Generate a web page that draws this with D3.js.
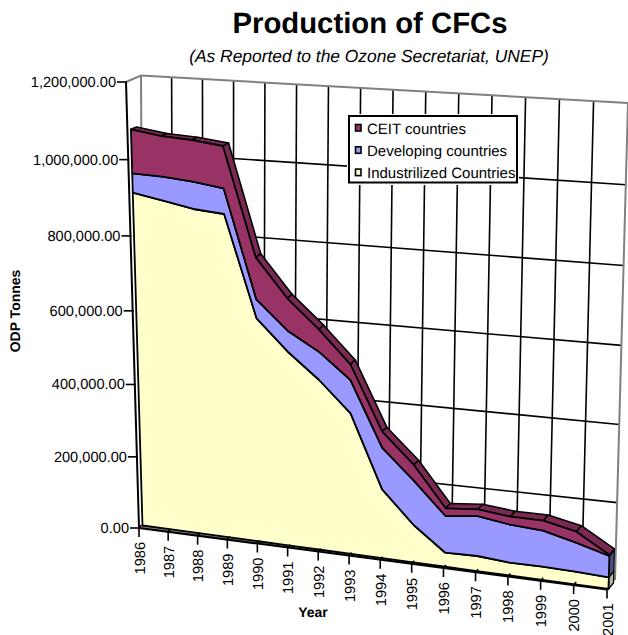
<!DOCTYPE html>
<html>
<head>
<meta charset="utf-8">
<style>
html,body{margin:0;padding:0;background:#fff}
svg{display:block}
text{font-family:"Liberation Sans",Arial,sans-serif;fill:#000;text-rendering:geometricPrecision}
</style>
</head>
<body>
<script src="https://cdn.jsdelivr.net/npm/d3@7"></script>
<script>
// CFC production in ODP tonnes
const years = d3.range(1986, 2002);
const industrialized = [910000,895400,880200,873700,607300,527000,460600,381200,187400,101800,38100,40800,34500,35500,34000,31000];
const developing = [51000,62700,71000,66600,50200,55700,75000,88400,111700,119300,99000,107300,101600,95800,76900,56300];
const ceit = [114600,105500,107700,108800,110200,85300,59000,41400,42700,42000,20700,17900,21300,26500,29000,2600];
const valueTicks = [0,200000,400000,600000,800000,1000000,1200000];
const legendNames = ["CEIT countries","Developing countries","Industrilized Countries"];
const fills = {ceit:"#993366",developing:"#9999ff",industrialized:"#ffffcc"};
const sideFills = {ceit:"#4d1a33",developing:"#4c4c80",industrialized:"#b8b890"};
const topFill = "#7a2952";

const W = 628, H = 635;
const svg = d3.select("body").append("svg").attr("width",W).attr("height",H);

// Solves the 8x8 system behind a unit-square to quadrilateral projection
function solve(A,b){
  const n=b.length; const M=A.map((r,i)=>[...r,b[i]]);
  for(let i=0;i<n;i++){
    let p=i; for(let k=i;k<n;k++) if(Math.abs(M[k][i])>Math.abs(M[p][i])) p=k;
    [M[i],M[p]]=[M[p],M[i]];
    for(let k=0;k<n;k++) if(k!==i){const f=M[k][i]/M[i][i]; for(let j=i;j<=n;j++) M[k][j]-=f*M[i][j];}
  }
  return M.map((r,i)=>r[n]/r[i]);
}
function plane(tl,tr,br,bl){
  const A=[],b=[];
  [[0,1,tl],[1,1,tr],[1,0,br],[0,0,bl]].forEach(([u,v,p])=>{
    A.push([u,v,1,0,0,0,-u*p[0],-v*p[0]]); b.push(p[0]);
    A.push([0,0,0,u,v,1,-u*p[1],-v*p[1]]); b.push(p[1]);
  });
  const h=solve(A,b);
  return (u,v)=>{const w=h[6]*u+h[7]*v+1; return [(h[0]*u+h[1]*v+h[2])/w,(h[3]*u+h[4]*v+h[5])/w];};
}

const uScale = d3.scaleLinear().domain([1986,2001]).range([0,1]);
const vScale = d3.scaleLinear().domain([0,1200000]).range([0,1]);

// Perspective planes of the 3-D box: back wall, axis edge, front and rear of the area ribbon
const wallPlane  = plane([141,75.5],[628,103],[615,580],[143.5,525]);
const axisPlane  = plane([126,82],[620,112],[607,589.5],[139,528]);
const frontPlane = plane([129.5,81],[621.5,111],[608.5,589],[142.5,525.5]);
const rearPlane  = plane([135.5,79],[626,106],[613.5,583],[145,524]);

const pt = (pl,yr,val)=>pl(uScale(yr),vScale(val));
const line = d3.line();

// Walls and grid
const walls = svg.append("g").attr("fill","none");
walls.selectAll("line.v").data(years.slice(1,-1)).join("line")
  .attr("x1",d=>pt(wallPlane,d,0)[0]).attr("y1",d=>pt(wallPlane,d,0)[1])
  .attr("x2",d=>pt(wallPlane,d,1200000)[0]).attr("y2",d=>pt(wallPlane,d,1200000)[1])
  .attr("stroke","#000").attr("stroke-width",1.6);
walls.selectAll("line.h").data(valueTicks.slice(1,-1)).join("line")
  .attr("x1",d=>pt(wallPlane,1986,d)[0]).attr("y1",d=>pt(wallPlane,1986,d)[1])
  .attr("x2",d=>pt(wallPlane,2001,d)[0]).attr("y2",d=>pt(wallPlane,2001,d)[1])
  .attr("stroke","#000").attr("stroke-width",1.6);
walls.append("path")
  .attr("d",line([pt(axisPlane,1986,1200000),pt(wallPlane,1986,1200000),pt(wallPlane,2001,1200000),pt(wallPlane,2001,0)]))
  .attr("stroke","#808080").attr("stroke-width",2);
walls.append("path")
  .attr("d",line([pt(wallPlane,1986,1200000),pt(wallPlane,1986,0)]))
  .attr("stroke","#808080").attr("stroke-width",2);

// Floor strip between the axis edge and the ribbon
svg.append("path")
  .attr("d",line([pt(axisPlane,1986,0),pt(axisPlane,2001,0),pt(wallPlane,2001,0),pt(wallPlane,1986,0)])+"Z")
  .attr("fill","#808080");

// Stacked layers, bottom to top
const layers = [];
years.forEach((y,i)=>{
  const a=industrialized[i], b=a+developing[i], c=b+ceit[i];
  layers.push({year:y,base:0,industrialized:a,developing:b,ceit:c});
});
const order = ["industrialized","developing","ceit"];
const lowerOf = {industrialized:"base",developing:"industrialized",ceit:"developing"};

// End cap at the last year
const last = layers[layers.length-1];
order.forEach(k=>{
  svg.append("path")
    .attr("d",line([pt(frontPlane,2001,last[lowerOf[k]]),pt(frontPlane,2001,last[k]),pt(rearPlane,2001,last[k]),pt(rearPlane,2001,last[lowerOf[k]])])+"Z")
    .attr("fill",sideFills[k]).attr("stroke","#000").attr("stroke-width",1.2).attr("stroke-linejoin","round");
});

// Top of the ribbon, one facet per year interval
d3.pairs(layers).forEach(([p,q])=>{
  svg.append("path")
    .attr("d",line([pt(frontPlane,p.year,p.ceit),pt(frontPlane,q.year,q.ceit),pt(rearPlane,q.year,q.ceit),pt(rearPlane,p.year,p.ceit)])+"Z")
    .attr("fill",topFill).attr("stroke","#000").attr("stroke-width",1.6).attr("stroke-linejoin","round");
});

// Front faces
order.forEach(k=>{
  const upper = layers.map(d=>pt(frontPlane,d.year,d[k]));
  const lower = layers.map(d=>pt(frontPlane,d.year,d[lowerOf[k]])).reverse();
  svg.append("path").attr("d",line(upper.concat(lower))+"Z")
    .attr("fill",fills[k]).attr("stroke","#000").attr("stroke-width",1.8).attr("stroke-linejoin","round");
});

// Value axis
const fmt = d3.format(",.2f");
const axis = svg.append("g");
axis.append("path")
  .attr("d",line([pt(axisPlane,1986,1200000),pt(axisPlane,1986,0)]))
  .attr("stroke","#000").attr("stroke-width",2).attr("fill","none");
const vt = axis.selectAll("g.vt").data(valueTicks).join("g");
vt.append("line")
  .attr("x1",d=>pt(axisPlane,1986,d)[0]-9).attr("x2",d=>pt(axisPlane,1986,d)[0]+1)
  .attr("y1",d=>pt(axisPlane,1986,d)[1]).attr("y2",d=>pt(axisPlane,1986,d)[1])
  .attr("stroke","#000").attr("stroke-width",1.6);
vt.append("text")
  .attr("x",d=>pt(axisPlane,1986,d)[0]-10).attr("y",d=>pt(axisPlane,1986,d)[1]+5)
  .attr("text-anchor","end").attr("font-size",14.6).text(d=>fmt(d));

// Year axis
const ax = svg.append("g");
ax.append("path").attr("d",line([pt(axisPlane,1986,0),pt(axisPlane,2001,0)]))
  .attr("stroke","#000").attr("stroke-width",2).attr("fill","none");
const xt = ax.selectAll("g.xt").data(years).join("g");
xt.append("path")
  .attr("d",d=>{const p=pt(axisPlane,d,0);return line([[p[0]+2.5,p[1]-3],[p[0],p[1]],[p[0],p[1]+9]]);})
  .attr("stroke","#000").attr("stroke-width",1.6).attr("fill","none");
xt.append("text")
  .attr("transform",d=>{const p=pt(axisPlane,d,0);return `translate(${p[0]+5.5},${p[1]+14}) rotate(-90)`;})
  .attr("text-anchor","end").attr("font-size",14.6).text(d=>d);

// Titles
svg.append("text").attr("x",370).attr("y",33).attr("text-anchor","middle")
  .attr("font-size",29.3).attr("font-weight","bold").text("Production of CFCs");
svg.append("text").attr("x",369).attr("y",62).attr("text-anchor","middle")
  .attr("font-size",17.4).attr("font-style","italic").text("(As Reported to the Ozone Secretariat, UNEP)");
svg.append("text").attr("transform","translate(20,311) rotate(-90)").attr("text-anchor","middle")
  .attr("font-size",14).attr("font-weight","bold").text("ODP Tonnes");
svg.append("text").attr("x",313).attr("y",617).attr("text-anchor","middle")
  .attr("font-size",14).attr("font-weight","bold").text("Year");

// Legend
const lg = svg.append("g");
lg.append("rect").attr("x",347).attr("y",114).attr("width",172).attr("height",71).attr("fill","#fff");
lg.append("rect").attr("x",349).attr("y",116).attr("width",168).attr("height",66.5).attr("fill","#fff").attr("stroke","#000").attr("stroke-width",2);
const legendKeys = ["ceit","developing","industrialized"];
const row = lg.selectAll("g.row").data(legendNames).join("g").attr("transform",(d,i)=>`translate(0,${128+i*22.3})`);
row.append("rect").attr("x",355.5).attr("y",-3.5).attr("width",5.5).attr("height",6.5)
  .attr("fill",(d,i)=>fills[legendKeys[i]]).attr("stroke","#000").attr("stroke-width",1.6);
row.append("text").attr("x",367).attr("y",5.5).attr("font-size",15).text(d=>d);
</script>
</body>
</html>
